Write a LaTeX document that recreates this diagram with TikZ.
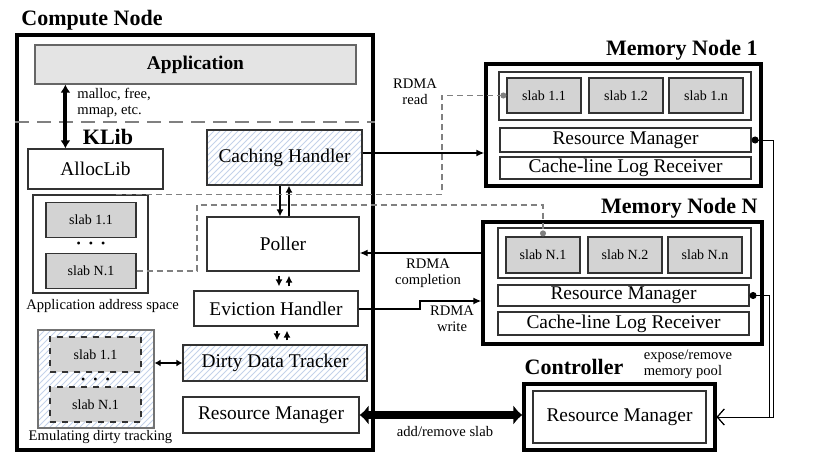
\documentclass[tikz,border=0pt]{standalone}
\usepackage{fontspec}
\setmainfont{Liberation Serif}
\usepackage{tikz}
\usetikzlibrary{arrows.meta,positioning,calc,patterns}
\definecolor{slabgray}{HTML}{D3D3D3}
\definecolor{appgray}{HTML}{E4E4E4}
\definecolor{hatchblue}{HTML}{C4D2EA}
\definecolor{dashgray}{HTML}{808080}
\tikzset{
  titletext/.style={font=\bfseries\fontsize{11}{13}\selectfont,inner sep=0pt},
  smalltext/.style={font=\fontsize{7.3}{8.2}\selectfont,align=center,inner sep=0pt},
  unitbox/.style={
    draw=black!80,
    line width=0.6pt,
    align=center,
    inner sep=0pt,
    font=\fontsize{9.7}{11.5}\selectfont
  },
  hatchbox/.style={unitbox,pattern=north east lines,pattern color=hatchblue},
  appbox/.style={unitbox,draw=black!60,fill=appgray,font=\bfseries\fontsize{9.7}{11.5}\selectfont},
  groupbox/.style={draw=black!80,line width=0.6pt,inner sep=0pt},
  hatchgroup/.style={groupbox,draw=black!55,pattern=north east lines,pattern color=hatchblue},
  nodeframe/.style={draw=black,line width=1.6pt,inner sep=0pt},
  slabbox/.style={
    draw=black!80,
    fill=slabgray,
    line width=0.6pt,
    minimum width=37pt,
    minimum height=17.5pt,
    inner sep=0pt,
    font=\fontsize{7}{8}\selectfont
  },
  dotrow/.style={font=\fontsize{6}{6}\selectfont,inner sep=0pt},
  bigflow/.style={{Latex[length=4pt,width=5pt]}-{Latex[length=4pt,width=5pt]},line width=2pt},
  rdmaflow/.style={-{Latex[length=4pt,width=3.5pt]},line width=1pt},
  slabflow/.style={{Latex[length=4.5pt,width=10pt]}-{Latex[length=4.5pt,width=10pt]},line width=4pt},
  poolflow/.style={{Circle[length=3.5pt]}-{Straight Barb[length=3.5pt,width=8pt]},line width=0.5pt},
  stepflow/.style={-{Latex[length=3.5pt,width=3.5pt]},line width=0.8pt},
  pairflow/.style={{Latex[length=3pt,width=3.5pt]}-{Latex[length=3pt,width=3.5pt]},line width=0.9pt},
  layerline/.style={draw=dashgray,line width=1.2pt,dash pattern=on 7pt off 4pt},
  mapline/.style={draw=dashgray,line width=0.6pt,dash pattern=on 3pt off 2pt,-{Circle[length=3pt,fill=dashgray]}}
}

\begin{document}
\begin{tikzpicture}[x=0.5pt,y=-0.5pt]
  \useasboundingbox (0,0) rectangle (815,471);

  % compute node
  \node[titletext,anchor=west] (cntitle) at (21,20) {Compute Node};
  \node[nodeframe,minimum width=178pt,minimum height=207.5pt] (cnode) at (195,242.5) {};
  \node[appbox,minimum width=160.5pt,minimum height=19.5pt] (app) at (195.5,64.5) {Application};
  \draw[layerline] (cnode.west |- 0,122) -- (cnode.east |- 0,122);
  \node[smalltext,align=left,anchor=west] (calls) at (77,103) {malloc, free,\\mmap, etc.};
  \node[titletext] (klib) at (108,137) {KLib};
  \node[unitbox,minimum width=67.5pt,minimum height=20pt] (alloclib) at (95.5,169) {AllocLib};
  \node[hatchbox,minimum width=77.5pt,minimum height=27.5pt] (caching) at (284.5,157.5) {Caching Handler};
  \node[groupbox,minimum width=57.5pt,minimum height=49pt] (addrspace) at (90.5,244) {};
  \node[slabbox,minimum width=45pt] (aslabA) at (91,220) {slab 1.1};
  \node[slabbox,minimum width=45pt] (aslabN) at (91,271) {slab N.1};
  \node[dotrow] (adots) at (91,245) {\textbullet\hspace{4pt}\textbullet\hspace{4pt}\textbullet};
  \node[smalltext] (addrlabel) at (102.5,306) {Application address space};
  \node[unitbox,minimum width=76pt,minimum height=27pt] (poller) at (283,244) {Poller};
  \node[unitbox,minimum width=82pt,minimum height=17.5pt] (eviction) at (276,308.5) {Eviction Handler};
  \node[hatchgroup,minimum width=58pt,minimum height=49pt] (dirtyemu) at (96,379) {};
  \node[slabbox,dashed,minimum width=45.5pt] (eslabA) at (95.5,354.5) {slab 1.1};
  \node[slabbox,dashed,minimum width=45.5pt] (eslabN) at (95.5,404.5) {slab N.1};
  \node[dotrow] (edots) at (95.5,381) {\textbullet\hspace{4pt}\textbullet\hspace{4pt}\textbullet};
  \node[smalltext] (emulabel) at (100.5,437) {Emulating dirty tracking};
  \node[hatchbox,minimum width=92pt,minimum height=18pt] (dirty) at (275,363) {Dirty Data Tracker};
  \node[unitbox,minimum width=88pt,minimum height=18pt] (crm) at (271,415) {Resource Manager};

  % memory node 1
  \node[titletext,anchor=east] (mn1title) at (758,50) {Memory Node 1};
  \node[nodeframe,minimum width=137.5pt,minimum height=61pt] (mn1) at (623.5,125) {};
  \node[groupbox,minimum width=126pt,minimum height=24pt] (mn1slabs) at (625,96) {};
  \node[slabbox] (m1s1) at (544,95.5) {slab 1.1};
  \node[slabbox] (m1s2) at (626,95.5) {slab 1.2};
  \node[slabbox] (m1sn) at (706,95.5) {slab 1.n};
  \node[unitbox,minimum width=125.5pt,minimum height=12pt] (m1rm) at (625.5,140) {Resource Manager};
  \node[unitbox,minimum width=125.5pt,minimum height=11pt] (m1log) at (625.5,168) {Cache-line Log Receiver};

  % memory node N
  \node[titletext,anchor=east] (mnNtitle) at (758,208) {Memory Node N};
  \node[nodeframe,minimum width=139.5pt,minimum height=61pt] (mnN) at (622.5,283) {};
  \node[groupbox,minimum width=126.5pt,minimum height=25pt] (mNslabs) at (624.5,253) {};
  \node[slabbox,minimum height=18pt] (mNs1) at (543,255) {slab N.1};
  \node[slabbox,minimum height=18pt] (mNs2) at (625,255) {slab N.2};
  \node[slabbox,minimum height=18pt] (mNsn) at (705,255) {slab N.n};
  \node[unitbox,minimum width=125.5pt,minimum height=10.5pt] (mNrm) at (623.5,295.5) {Resource Manager};
  \node[unitbox,minimum width=125.5pt,minimum height=11.5pt] (mNlog) at (623.5,323.5) {Cache-line Log Receiver};

  % controller
  \node[titletext] (ctrltitle) at (574,367) {Controller};
  \node[smalltext,align=left] (exposelabel) at (688,364) {expose/remove\\memory pool};
  \node[nodeframe,minimum width=95.5pt,minimum height=33pt] (ctrl) at (619.5,417) {};
  \node[unitbox,minimum width=86.5pt,minimum height=26pt] (ctrlrm) at (619.5,417) {Resource Manager};

  % inside compute node
  \draw[bigflow] ([xshift=15.5pt]app.south west) -- ([xshift=15.5pt]app.south west |- alloclib.north);
  \draw[stepflow] ([xshift=-2.25pt]caching.south) -- ([xshift=-2.25pt]caching.south |- poller.north);
  \draw[stepflow,line width=1.3pt] ([xshift=2.25pt]caching.south |- poller.north) -- ([xshift=2.25pt]caching.south);
  \draw[stepflow,shorten <=2pt,shorten >=2pt] ([xshift=-2pt]poller.south) -- ([xshift=-2pt]poller.south |- eviction.north);
  \draw[stepflow,line width=1.2pt,shorten <=2pt,shorten >=2pt] ([xshift=3pt]poller.south |- eviction.north) -- ([xshift=3pt]poller.south);
  \draw[stepflow,shorten <=2pt,shorten >=2pt] ([xshift=0.5pt]eviction.south) -- ([xshift=0.5pt]eviction.south |- dirty.north);
  \draw[stepflow,line width=1.2pt,shorten <=2pt,shorten >=2pt] ([xshift=5.5pt]eviction.south |- dirty.north) -- ([xshift=5.5pt]eviction.south);
  \draw[pairflow] (dirtyemu.east |- dirty.west) -- (dirty.west);

  % rdma paths
  \draw[rdmaflow] ([yshift=2.25pt]caching.east) -- ([yshift=2.25pt]caching.east -| mn1.west);
  \node[smalltext] (readlabel) at (415,92) {RDMA\\read};
  \coordinate (cmpl) at ([yshift=-4.5pt]poller.east);
  \draw[rdmaflow] (cmpl -| mnN.west) -- (cmpl);
  \node[smalltext] (cmpllabel) at (428,273) {RDMA\\completion};
  \coordinate (wstep) at (420,301);
  \draw[rdmaflow] (eviction.east) -- (eviction.east -| wstep) -- (wstep) -- (wstep -| mnN.west);
  \node[smalltext] (writelabel) at (452,319) {RDMA\\write};

  % slab management
  \draw[slabflow] (crm.east) -- (crm.east -| ctrl.west);
  \node[smalltext] (slablabel) at (445,432) {add/remove slab};
  \coordinate (poolA) at (773,417);
  \coordinate (poolN) at (769,417);
  \draw[poolflow] (m1rm.east) -| (poolA) -- (ctrl.east);
  \draw[poolflow] (mNrm.east) -| (poolN) -- (ctrl.east);

  % slab mappings
  \coordinate (mapA) at ([xshift=12.75pt]addrspace.north);
  \coordinate (mapAturn) at (442,95.5);
  \draw[mapline] (mapA) -| (mapAturn) -- (m1s1.west);
  \coordinate (mapNturn) at (197,205);
  \draw[mapline] (aslabN.east) -| (mapNturn) -| (mNs1.north);
\end{tikzpicture}
\end{document}
